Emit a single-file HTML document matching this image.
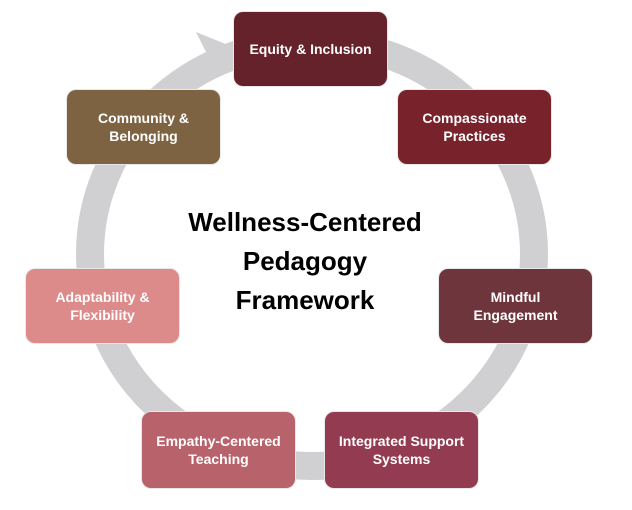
<!DOCTYPE html>
<html><head><style>
body{margin:0;background:#fff;width:632px;height:510px;position:relative;overflow:hidden;font-family:"Liberation Sans",Arial,sans-serif}
.b{position:absolute;width:153px;height:74px;border-radius:9px;color:#fff;font-weight:bold;font-size:14px;display:flex;align-items:center;justify-content:center;text-align:center;line-height:18px;box-shadow:0 0 0 1px #e8e8e8}
.t{position:absolute;left:150px;width:310px;text-align:center;font-weight:bold;font-size:26px;line-height:39px;top:203px;color:#000}
</style></head><body>
<svg width="632" height="510" style="position:absolute;left:0;top:0">
<ellipse cx="312" cy="254" rx="222" ry="212" fill="none" stroke="#d0d0d2" stroke-width="28"/>
<polygon points="196,32 233,47 216,72" fill="#d0d0d2"/>
</svg>
<div class="b" style="left:234px;top:12px;background:#65222a">Equity &amp; Inclusion</div>
<div class="b" style="left:398px;top:90px;background:#78222b">Compassionate<br>Practices</div>
<div class="b" style="left:67px;top:90px;background:#7e6342">Community &amp;<br>Belonging</div>
<div class="b" style="left:26px;top:269px;background:#dd8a8a">Adaptability &amp;<br>Flexibility</div>
<div class="b" style="left:439px;top:269px;background:#6e363c">Mindful<br>Engagement</div>
<div class="b" style="left:142px;top:412px;height:76px;background:#b8636b">Empathy-Centered<br>Teaching</div>
<div class="b" style="left:325px;top:412px;height:76px;background:#933c51">Integrated Support<br>Systems</div>
<div class="t">Wellness-Centered<br>Pedagogy<br>Framework</div>
</body></html>
